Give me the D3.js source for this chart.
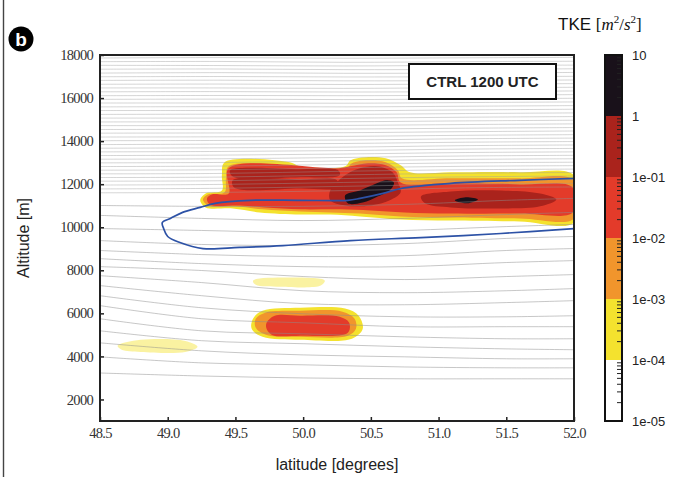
<!DOCTYPE html>
<html>
<head>
<meta charset="utf-8">
<script src="https://cdn.jsdelivr.net/npm/d3@7"></script>
<style>
  body { margin: 0; background: #fff; }
  svg { display: block; }
</style>
</head>
<body>
<svg id="chart" width="676" height="477"></svg>
<script>
// Ticks and labels
const xTicks = [48.5, 49.0, 49.5, 50.0, 50.5, 51.0, 51.5, 52.0];
const yTicks = [2000, 4000, 6000, 8000, 10000, 12000, 14000, 16000, 18000];
const cbTicks = [10, 1, 0.1, 0.01, 0.001, 1e-4, 1e-5];
const cbLabels = ['10', '1', '1e-01', '1e-02', '1e-03', '1e-04', '1e-05'];

// TKE classes (lower bound of each band) and their fill
const tkeLevels = [1e-4, 1e-3, 1e-2, 1e-1, 1];
const tkeColors = ['#f4e22e', '#f1952c', '#e33b2a', '#aa231c', '#19111a'];

// isentropes above the tropopause: altitude [m] at upperLats
const upperLats = [48.5, 49.4, 50.3, 51.2, 52.0];
const upperLines = [
  [17860, 17880, 17850, 17870, 17890],
  [17690, 17700, 17660, 17690, 17710],
  [17520, 17510, 17490, 17520, 17530],
  [17340, 17350, 17320, 17330, 17360],
  [17160, 17180, 17150, 17160, 17190],
  [16990, 17000, 16980, 16990, 17010],
  [16820, 16830, 16800, 16810, 16840],
  [16640, 16650, 16630, 16650, 16670],
  [16470, 16470, 16450, 16480, 16500],
  [16290, 16300, 16280, 16300, 16330],
  [16110, 16120, 16110, 16130, 16160],
  [15940, 15950, 15930, 15960, 15990],
  [15770, 15770, 15760, 15790, 15820],
  [15590, 15600, 15590, 15620, 15650],
  [15420, 15420, 15410, 15450, 15480],
  [15240, 15250, 15240, 15280, 15310],
  [15070, 15070, 15070, 15110, 15140],
  [14890, 14900, 14900, 14940, 14970],
  [14720, 14720, 14730, 14770, 14800],
  [14540, 14550, 14560, 14600, 14630],
  [14370, 14380, 14390, 14440, 14470],
  [14190, 14200, 14220, 14270, 14300],
  [14020, 14030, 14050, 14110, 14140],
  [13840, 13860, 13890, 13950, 13980],
  [13670, 13690, 13720, 13790, 13820],
  [13500, 13520, 13560, 13630, 13660],
  [13330, 13350, 13400, 13470, 13500],
  [13160, 13180, 13240, 13310, 13340],
  [12990, 13010, 13080, 13150, 13180],
  [12820, 12840, 12920, 12990, 13020],
  [12650, 12670, 12760, 12830, 12860],
  [12480, 12500, 12600, 12670, 12700],
  [12310, 12330, 12430, 12510, 12540],
  [12140, 12160, 12260, 12340, 12380],
  [11960, 11990, 12080, 12170, 12210],
  [11780, 11810, 11900, 12000, 12040],
  [11600, 11620, 11700, 11830, 11870]
];

// isentropes in the troposphere: altitude [m] at lowerLats
const lowerLats = [48.5, 49.25, 50.0, 50.75, 51.5, 52.0];
const lowerLines = [
  [11010, 10970, 10970, 11060, 11250, 11340],
  [10550, 10410, 10310, 10410, 10590, 10690],
  [9940, 9850, 9760, 9850, 10030, 10130],
  [9380, 9200, 9150, 9240, 9480, 9570],
  [8920, 8730, 8640, 8680, 8920, 9010],
  [8540, 8310, 8170, 8170, 8360, 8450],
  [8170, 7990, 7710, 7570, 7710, 7800],
  [7750, 7430, 7050, 6960, 7050, 7150],
  [7290, 6820, 6450, 6400, 6500, 6590],
  [6820, 6260, 5980, 5840, 5840, 5890],
  [6360, 5750, 5560, 5380, 5380, 5380],
  [5750, 5190, 5050, 4910, 4820, 4820],
  [5190, 4730, 4590, 4450, 4350, 4310],
  [4630, 4260, 4070, 3980, 3890, 3890],
  [3980, 3700, 3610, 3510, 3470, 3470],
  [3230, 3090, 3000, 2960, 2960, 2960]
];

// blue contour [lat, alt]
const tropopause = [
  [52.0, 12270], [51.60, 12180], [51.09, 12040], [50.72, 11800], [50.59, 11570],
  [50.42, 11340], [50.33, 11250], [49.98, 11250], [49.61, 11250], [49.35, 11110],
  [49.24, 10920], [49.11, 10690], [49.02, 10410], [48.96, 10220], [48.97, 9940],
  [49.0, 9570], [49.09, 9290], [49.26, 9010], [49.53, 9060], [49.85, 9150],
  [50.35, 9380], [50.87, 9520], [51.46, 9710], [52.0, 9940]
];

// TKE filled areas [lat, alt], one list per class
const tkeYellow = [
  [[49.42, 13020], [49.90, 13020], [49.98, 12830], [50.31, 12830], [50.35, 13110], [50.46, 13250],
   [50.61, 13200], [50.72, 12880], [50.79, 12550], [51.09, 12550], [51.60, 12550], [52.0, 12410],
   [52.0, 10220], [51.60, 10270], [51.09, 10310], [50.72, 10360], [50.42, 10500], [50.20, 10590],
   [49.98, 10590], [49.68, 10690], [49.48, 10870], [49.28, 10920], [49.24, 11250], [49.28, 11570],
   [49.40, 11710], [49.40, 12410]],
  [[49.63, 5750], [49.70, 6120], [49.98, 6260], [50.31, 6220], [50.41, 5890], [50.44, 5280],
   [50.36, 4820], [49.98, 4770], [49.70, 4910], [49.62, 5280]]
];
const tkeOrange = [
  [[49.45, 12830], [49.89, 12830], [49.98, 12640], [50.31, 12640], [50.36, 12970], [50.48, 13110],
   [50.61, 13020], [50.70, 12640], [50.73, 12270], [51.09, 12270], [51.60, 12270], [52.0, 12180],
   [52.0, 10410], [51.60, 10410], [51.09, 10450], [50.72, 10500], [50.42, 10640], [50.20, 10690],
   [49.98, 10730], [49.70, 10830], [49.50, 10970], [49.30, 11010], [49.26, 11290], [49.30, 11530],
   [49.42, 11620], [49.43, 12270]],
  [[49.65, 5750], [49.72, 6030], [49.98, 6120], [50.29, 6080], [50.38, 5750], [50.39, 5280],
   [50.33, 4960], [49.98, 4910], [49.73, 5000], [49.65, 5330]]
];
const tkeRed = [
  [[49.45, 12740], [50.26, 12740], [50.35, 12830], [50.48, 12970], [50.61, 12880], [50.69, 12550],
   [50.72, 12080], [51.09, 12040], [51.60, 11990], [51.99, 11850], [51.99, 10690], [51.60, 10640],
   [51.09, 10640], [50.75, 10690], [50.50, 10780], [50.27, 10830], [49.98, 10830], [49.72, 10920],
   [49.53, 11010], [49.31, 11060], [49.29, 11340], [49.33, 11530], [49.45, 11570]],
  [[49.73, 5560], [49.79, 5890], [49.98, 5890], [50.27, 5840], [50.34, 5560], [50.33, 5100],
   [49.98, 4960], [49.77, 5000], [49.73, 5280]]
];
const tkeDarkRed = [
  [[49.46, 12640], [49.98, 12690], [50.26, 12640], [50.27, 12410], [49.98, 12320], [49.48, 12360]],
  [[49.48, 12180], [49.98, 12220], [50.25, 12180], [50.25, 11850], [49.98, 11800], [49.49, 11850]],
  [[50.31, 12410], [50.42, 12740], [50.55, 12830], [50.66, 12550], [50.70, 12080], [50.72, 11620],
   [50.64, 11250], [50.50, 11010], [50.31, 11010], [50.20, 11250], [50.20, 11710]],
  [[50.87, 11430], [51.09, 11665], [51.46, 11710], [51.75, 11570], [51.87, 11290], [51.75, 10970],
   [51.46, 10870], [51.09, 10920], [50.90, 11110]]
];
const tkeBlack = [
  [[50.31, 11480], [50.42, 11710], [50.51, 11945], [50.61, 12180], [50.67, 12080], [50.64, 11710],
   [50.55, 11430], [50.44, 11150], [50.33, 11110]],
  [[51.12, 11250], [51.20, 11390], [51.29, 11290], [51.21, 11110]]
];
// weak patches just above 1e-04
const tkeFaint = [
  [[49.63, 7520], [49.90, 7660], [50.16, 7520], [50.13, 7290], [49.83, 7240], [49.65, 7330]],
  [[48.63, 4490], [48.80, 4770], [49.13, 4720], [49.22, 4450], [49.13, 4210], [48.80, 4210], [48.66, 4310]]
];

const svg = d3.select('#chart');
const plot = {left: 100, right: 574, top: 55, bottom: 421};
const cb = {left: 605, right: 622};

const x = d3.scaleLinear().domain([48.5, 52.0]).range([plot.left, plot.right]);
const y = d3.scaleLinear().domain([1000, 18000]).range([plot.bottom, plot.top]);
const c = d3.scaleLog().domain([1e-5, 10]).range([plot.bottom, plot.top]);

svg.append('defs').append('clipPath').attr('id', 'clip')
  .append('rect')
    .attr('x', plot.left).attr('y', plot.top)
    .attr('width', plot.right - plot.left).attr('height', plot.bottom - plot.top);

// page edge line on the left
svg.append('line')
  .attr('x1', 3.5).attr('x2', 3.5).attr('y1', 0).attr('y2', 477)
  .attr('stroke', '#444').attr('stroke-width', 1.4);

const g = svg.append('g').attr('clip-path', 'url(#clip)');

const area = d3.line()
  .x(d => x(d[0])).y(d => y(d[1]))
  .curve(d3.curveCatmullRomClosed.alpha(0.5));

// TKE fills, lowest class first
g.selectAll('path.faint')
  .data(tkeFaint)
  .enter().append('path')
    .attr('class', 'faint')
    .attr('d', area)
    .attr('fill', tkeColors[0])
    .attr('opacity', 0.45);

const tkeClasses = [tkeYellow, tkeOrange, tkeRed, tkeDarkRed, tkeBlack];
tkeClasses.forEach((polys, i) => {
  g.selectAll('path.tke' + i)
    .data(polys)
    .enter().append('path')
      .attr('class', 'tke' + i)
      .attr('d', area)
      .attr('fill', tkeColors[i]);
});

// isentropes
const upperLine = d3.line()
  .x((d, i) => x(upperLats[i])).y(d => y(d))
  .curve(d3.curveCatmullRom);
const lowerLine = d3.line()
  .x((d, i) => x(lowerLats[i])).y(d => y(d))
  .curve(d3.curveCatmullRom);

g.selectAll('path.upper')
  .data(upperLines)
  .enter().append('path')
    .attr('class', 'upper')
    .attr('d', upperLine)
    .attr('fill', 'none')
    .attr('stroke', '#9a9a9a')
    .attr('stroke-opacity', 0.6)
    .attr('stroke-width', 0.7);

g.selectAll('path.lower')
  .data(lowerLines)
  .enter().append('path')
    .attr('class', 'lower')
    .attr('d', lowerLine)
    .attr('fill', 'none')
    .attr('stroke', '#8c8c8c')
    .attr('stroke-opacity', 0.7)
    .attr('stroke-width', 0.7);

// blue contour
g.append('path')
  .datum(tropopause)
  .attr('d', d3.line().x(d => x(d[0])).y(d => y(d[1])).curve(d3.curveCatmullRom.alpha(0.5)))
  .attr('fill', 'none')
  .attr('stroke', '#2d52a6')
  .attr('stroke-width', 1.7);

// axes
const tickFont = 'Liberation Serif, Times New Roman, serif';

const yAxis = svg.append('g')
  .attr('transform', `translate(${plot.left},0)`)
  .call(d3.axisLeft(y).tickValues(yTicks).tickSize(-4).tickPadding(7).tickFormat(d3.format('d')));
const xAxis = svg.append('g')
  .attr('transform', `translate(0,${plot.bottom})`)
  .call(d3.axisBottom(x).tickValues(xTicks).tickSize(-4).tickPadding(7).tickFormat(d3.format('.1f')));

[xAxis, yAxis].forEach(a => {
  a.select('.domain').remove();
  a.selectAll('.tick line').attr('stroke', '#222').attr('stroke-width', 1.5);
  a.selectAll('.tick text')
    .attr('fill', '#333')
    .attr('font-family', tickFont)
    .attr('font-size', 14.5)
    .attr('letter-spacing', -0.7);
});

svg.append('rect')
  .attr('x', plot.left).attr('y', plot.top)
  .attr('width', plot.right - plot.left).attr('height', plot.bottom - plot.top)
  .attr('fill', 'none')
  .attr('stroke', '#222')
  .attr('stroke-width', 2);

// run label
svg.append('rect')
  .attr('x', 409).attr('y', 64).attr('width', 147).attr('height', 35)
  .attr('fill', '#fff').attr('stroke', '#111').attr('stroke-width', 2);
svg.append('text')
  .attr('x', 482.5).attr('y', 87)
  .attr('text-anchor', 'middle')
  .attr('font-family', 'Liberation Sans, Arial, sans-serif')
  .attr('font-size', 15)
  .attr('font-weight', 'bold')
  .attr('fill', '#222')
  .text('CTRL 1200 UTC');

// colour bar
const bands = [1e-5].concat(tkeLevels).map((lo, i, arr) => ({
  lo: lo,
  hi: i < arr.length - 1 ? arr[i + 1] : 10,
  fill: i === 0 ? '#fff' : tkeColors[i - 1]
}));
svg.selectAll('rect.band')
  .data(bands)
  .enter().append('rect')
    .attr('class', 'band')
    .attr('x', cb.left).attr('width', cb.right - cb.left)
    .attr('y', d => c(d.hi))
    .attr('height', d => c(d.lo) - c(d.hi))
    .attr('fill', d => d.fill);

const minor = [];
d3.range(-5, 1).forEach(p => {
  d3.range(2, 10).forEach(m => minor.push(m * Math.pow(10, p)));
});
svg.selectAll('line.minor')
  .data(minor)
  .enter().append('line')
    .attr('class', 'minor')
    .attr('x1', cb.right - 5).attr('x2', cb.right)
    .attr('y1', d => c(d)).attr('y2', d => c(d))
    .attr('stroke', '#222').attr('stroke-width', 1);

svg.append('rect')
  .attr('x', cb.left).attr('y', plot.top)
  .attr('width', cb.right - cb.left).attr('height', plot.bottom - plot.top)
  .attr('fill', 'none').attr('stroke', '#111').attr('stroke-width', 2);

svg.selectAll('text.cb')
  .data(cbTicks)
  .enter().append('text')
    .attr('class', 'cb')
    .attr('x', 632)
    .attr('y', d => c(d))
    .attr('dy', '0.35em')
    .attr('font-family', 'Liberation Sans, Arial, sans-serif')
    .attr('font-size', 13)
    .attr('fill', '#222')
    .text((d, i) => cbLabels[i]);

// title of colour bar
const title = svg.append('text')
  .attr('x', 558).attr('y', 30)
  .attr('font-family', 'Liberation Sans, Arial, sans-serif')
  .attr('font-size', 17)
  .attr('fill', '#111');
title.append('tspan').text('TKE ');
const unit = title.append('tspan').attr('font-family', 'Liberation Serif, serif');
unit.append('tspan').text('[');
unit.append('tspan').attr('font-style', 'italic').text('m');
unit.append('tspan').attr('font-size', 11).attr('dy', -7).text('2');
unit.append('tspan').attr('dy', 7).text('/');
unit.append('tspan').attr('font-style', 'italic').text('s');
unit.append('tspan').attr('font-size', 11).attr('dy', -7).text('2');
unit.append('tspan').attr('dy', 7).text(']');

// axis titles
svg.append('text')
  .attr('x', 337).attr('y', 470)
  .attr('text-anchor', 'middle')
  .attr('font-family', 'Liberation Sans, Arial, sans-serif')
  .attr('font-size', 16)
  .attr('fill', '#222')
  .text('latitude [degrees]');
svg.append('text')
  .attr('transform', 'translate(29,238) rotate(-90)')
  .attr('text-anchor', 'middle')
  .attr('font-family', 'Liberation Sans, Arial, sans-serif')
  .attr('font-size', 16)
  .attr('fill', '#222')
  .text('Altitude [m]');

// panel letter
svg.append('circle').attr('cx', 21).attr('cy', 39).attr('r', 12.5).attr('fill', '#000');
svg.append('text')
  .attr('x', 21).attr('y', 46)
  .attr('text-anchor', 'middle')
  .attr('font-family', 'Liberation Sans, Arial, sans-serif')
  .attr('font-weight', 'bold')
  .attr('font-size', 19)
  .attr('fill', '#fff')
  .text('b');
</script>
</body>
</html>
